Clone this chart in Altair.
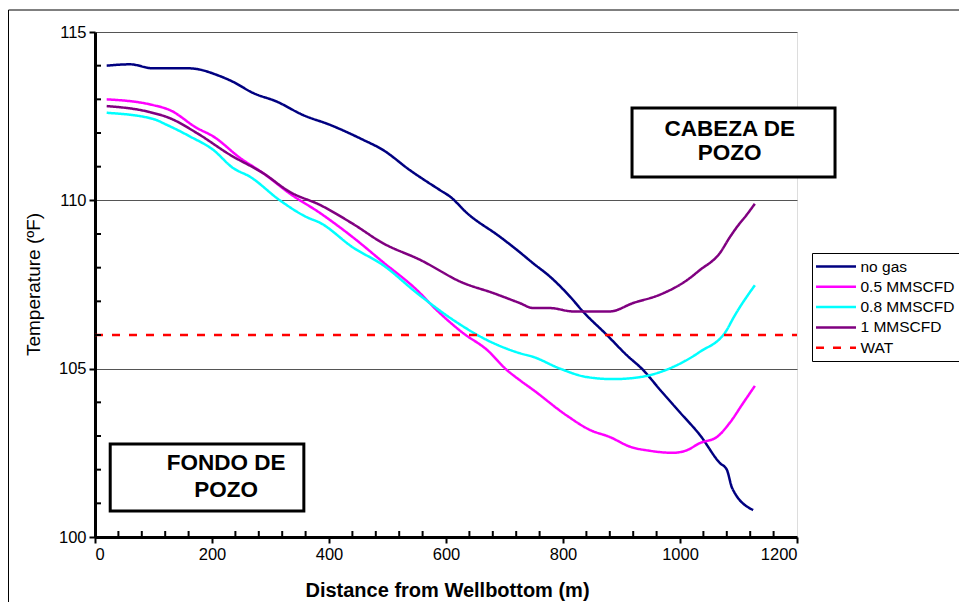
import altair as alt
import pandas as pd

# ---- data ----
series_names = ["no gas", "0.5 MMSCFD", "0.8 MMSCFD", "1 MMSCFD", "WAT"]
series_colors = ["#000080", "#FF00FF", "#00FFFF", "#800080", "#FF0000"]

nogas_x = [20, 60, 99, 162, 174, 209, 236, 270, 311, 356, 402, 458, 492, 538, 590, 607, 636, 692, 721,
           749, 778, 812, 834, 875, 909, 937, 966, 1000, 1034, 1068, 1080, 1089, 1125]
nogas_y = [114.0, 114.04, 113.92, 113.92, 113.9, 113.72, 113.52, 113.19, 112.93, 112.53, 112.24, 111.8,
           111.5, 110.9, 110.3, 110.11, 109.62, 108.92, 108.53, 108.13, 107.73, 107.14, 106.7, 106.0,
           105.4, 104.96, 104.37, 103.7, 103.03, 102.2, 102.0, 101.46, 100.8]

g05_x = [20, 99, 128, 174, 202, 248, 288, 333, 385, 441, 492, 550, 584, 629, 670, 704, 726, 749, 807,
         846, 880, 915, 949, 988, 1012, 1034, 1063, 1085, 1108, 1128]
g05_y = [113.0, 112.83, 112.68, 112.15, 111.9, 111.26, 110.8, 110.2, 109.62, 108.9, 108.17, 107.34,
         106.74, 106.06, 105.56, 104.96, 104.66, 104.37, 103.6, 103.18, 102.97, 102.68, 102.56, 102.5,
         102.58, 102.79, 102.97, 103.39, 103.98, 104.49]

g08_x = [20, 99, 123, 162, 202, 236, 265, 316, 362, 385, 441, 492, 550, 612, 670, 726, 749, 795, 841,
         886, 932, 988, 1034, 1080, 1091, 1128]
g08_y = [112.6, 112.42, 112.24, 111.9, 111.5, 110.96, 110.7, 110.0, 109.5, 109.33, 108.6, 108.08,
         107.25, 106.45, 105.85, 105.46, 105.35, 105.0, 104.75, 104.69, 104.75, 105.05, 105.5, 106.15,
         106.5, 107.48]

g1_x = [20, 94, 128, 174, 231, 288, 333, 385, 441, 492, 556, 629, 680, 726, 749, 778, 817, 880, 920,
        966, 1012, 1034, 1068, 1085, 1097, 1114, 1128]
g1_y = [112.8, 112.62, 112.44, 112.0, 111.35, 110.8, 110.25, 109.86, 109.3, 108.73, 108.23, 107.55,
        107.25, 106.95, 106.8, 106.8, 106.7, 106.7, 106.95, 107.2, 107.63, 107.93, 108.43, 108.9, 109.2,
        109.57, 109.9]

wat_x = [0, 1200]
wat_y = [106.0, 106.0]

y_major = [100, 105, 110, 115]
y_minor = [101, 102, 103, 104, 106, 107, 108, 109, 111, 112, 113, 114]
x_major = [0, 200, 400, 600, 800, 1000, 1200]
x_minor = [40, 80, 120, 160, 240, 280, 320, 360, 440, 480, 520, 560, 640, 680, 720, 760,
           840, 880, 920, 960, 1040, 1080, 1120, 1160]

box_x1 = [918, 26]
box_x2 = [1265, 357]
box_y1 = [110.69, 100.77]
box_y2 = [112.74, 102.76]
text_x = [1085, 224]
text_line1_y = [112.12, 102.2]
text_line2_y = [111.41, 101.4]
text_line1 = ["CABEZA DE", "FONDO DE"]
text_line2 = ["POZO", "POZO"]

# ---- build tables ----
rows = []
for name, xs, ys in zip(series_names,
                        [nogas_x, g05_x, g08_x, g1_x, wat_x],
                        [nogas_y, g05_y, g08_y, g1_y, wat_y]):
    for i, (xv, yv) in enumerate(zip(xs, ys)):
        rows.append({"series": name, "x": xv, "y": yv, "order": i})
df = pd.DataFrame(rows)

boxes = pd.DataFrame({"x1": box_x1, "x2": box_x2, "y1": box_y1, "y2": box_y2})
texts = pd.DataFrame({
    "x": text_x * 2,
    "y": text_line1_y + text_line2_y,
    "t": text_line1 + text_line2,
})
yminor_df = pd.DataFrame({"v": y_minor})
xminor_df = pd.DataFrame({"v": x_minor})

W, H = 702, 505
FONT = "Liberation Sans"

xscale = alt.Scale(domain=[0, 1200], nice=False, zero=False)
yscale = alt.Scale(domain=[100, 115], nice=False, zero=False)

xaxis = alt.Axis(values=x_major, format="d", title="Distance from Wellbottom (m)", grid=False,
                 labelFontSize=16.5, labelFont=FONT, labelColor="black", labelPadding=3,
                 tickSize=6, tickWidth=2, tickColor="black",
                 domainColor="black", domainWidth=3,
                 titleFont=FONT, titleFontSize=20, titleFontWeight="bold", titleColor="black",
                 titleX=352, titleY=53, titleBaseline="middle")
yaxis = alt.Axis(values=y_major, format="d", title="Temperature (ºF)", grid=True, gridColor="#555555",
                 gridWidth=1,
                 labelFontSize=16.5, labelFont=FONT, labelColor="black", labelPadding=3,
                 tickSize=6, tickWidth=2, tickColor="black",
                 domainColor="black", domainWidth=3,
                 titleFont=FONT, titleFontSize=19, titleFontWeight="normal", titleColor="black",
                 titleX=-62, titleY=252, titleAngle=-90, titleBaseline="middle", titleAlign="center")

lines = alt.Chart(df).mark_line(clip=False, strokeCap="butt", interpolate="monotone").encode(
    x=alt.X("x:Q", scale=xscale, axis=xaxis),
    y=alt.Y("y:Q", scale=yscale, axis=yaxis),
    order="order:Q",
    color=alt.Color("series:N", scale=alt.Scale(domain=series_names, range=series_colors),
                    legend=alt.Legend(title=None, orient="none", legendX=717, legendY=221,
                                      symbolType="M-2.5,0H2.5", symbolSize=256, symbolStrokeWidth=3,
                                      symbolOffset=10.5,
                                      labelFont=FONT, labelFontSize=15.5, labelColor="black",
                                      strokeColor="black", fillColor="white", padding=4,
                                      rowPadding=2.3, labelOffset=15, cornerRadius=0)),
    strokeDash=alt.StrokeDash("series:N",
                              scale=alt.Scale(domain=series_names,
                                              range=[[1, 0], [1, 0], [1, 0], [1, 0], [8, 9]]),
                              legend=None),
    strokeWidth=alt.StrokeWidth("series:N",
                                scale=alt.Scale(domain=series_names, range=[2.5, 2.5, 2.5, 2.5, 5]),
                                legend=None),
)

ytick_minor = alt.Chart(yminor_df).mark_rule(color="black", strokeWidth=2).encode(
    y=alt.Y("v:Q", scale=yscale),
    x=alt.value(0),
    x2=alt.value(6),
)
xtick_minor = alt.Chart(xminor_df).mark_rule(color="black", strokeWidth=2).encode(
    x=alt.X("v:Q", scale=xscale),
    y=alt.value(H),
    y2=alt.value(H - 6),
)

box_marks = alt.Chart(boxes).mark_rect(fill="white", stroke="black", strokeWidth=3, clip=False).encode(
    x=alt.X("x1:Q", scale=xscale), x2="x2:Q",
    y=alt.Y("y1:Q", scale=yscale), y2="y2:Q",
)
text_marks = alt.Chart(texts).mark_text(font=FONT, fontSize=22.5, fontWeight="bold", color="black",
                                         align="center", baseline="middle", clip=False).encode(
    x=alt.X("x:Q", scale=xscale),
    y=alt.Y("y:Q", scale=yscale),
    text="t:N",
)

frame = alt.Chart(pd.DataFrame({"a": [0]})).mark_rect(fill="white", fillOpacity=0, stroke="black",
                                                      strokeWidth=1, clip=False).encode(
    x=alt.value(-86.5), x2=alt.value(900), y=alt.value(-22), y2=alt.value(620),
)

chart = alt.layer(frame, lines, ytick_minor, xtick_minor, box_marks, text_marks).properties(
    width=W, height=H,
    autosize=alt.AutoSizeParams(type="none"),
    padding={"left": 87, "top": 24, "right": 162, "bottom": 65},
).configure_view(stroke="black", strokeWidth=3).configure(background="white")

chart.save("out.html", embed_options={"renderer": "svg", "actions": False})
